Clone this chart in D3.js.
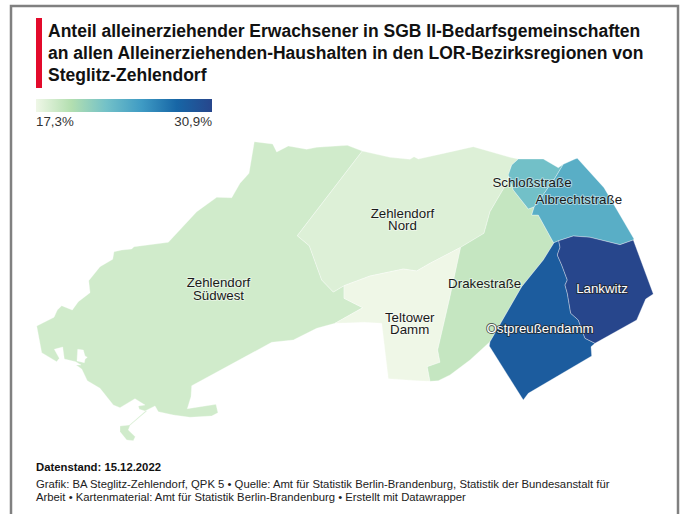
<!DOCTYPE html>
<html lang="de">
<head>
<meta charset="utf-8">
<script src="https://cdn.jsdelivr.net/npm/d3@7"></script>
<style>
  html, body { margin: 0; padding: 0; background: #fff; overflow: hidden; }
  svg { display: block; font-family: "Liberation Sans", Arial, sans-serif; }
</style>
</head>
<body>
<svg></svg>
<script>
const titleLines = [
    "Anteil alleinerziehender Erwachsener in SGB II-Bedarfsgemeinschaften",
    "an allen Alleinerziehenden-Haushalten in den LOR-Bezirksregionen von",
    "Steglitz-Zehlendorf"
];
const footerLines = [
    "Grafik: BA Steglitz-Zehlendorf, QPK 5 • Quelle: Amt für Statistik Berlin-Brandenburg, Statistik der Bundesanstalt für",
    "Arbeit • Kartenmaterial: Amt für Statistik Berlin-Brandenburg  • Erstellt mit Datawrapper"
];
const dataDate = "Datenstand: 15.12.2022";

// Bezirksregionen and their values (%)
const regions = ["Zehlendorf Südwest", "Zehlendorf Nord", "Teltower Damm", "Drakestraße", "Schloßstraße", "Albrechtstraße", "Ostpreußendamm", "Lankwitz"];
const values = [18.7, 18.1, 17.3, 19.2, 22.8, 24.1, 29.0, 30.9];
const rampColors = ["#eff7e7", "#b3dfb0", "#73c1c8", "#3f9bc4", "#1766a6", "#27468c"];
const legendLabels = ["17,3%", "30,9%"];

// Label lines per region, with the anchor point in map units
const labelLines = [["Zehlendorf", "Südwest"], ["Zehlendorf", "Nord"], ["Teltower", "Damm"], ["Drakestraße"], ["Schloßstraße"], ["Albrechtstraße"], ["Ostpreußendamm"], ["Lankwitz"]];
const labelAnchors = [[218.5, 287.3], [402.5, 217.7], [409.7, 321.7], [484.7, 287.7], [532, 186.7], [578.8, 204.3], [540, 333.3], [602, 292.7]];

const outlines = [
    [
        [[254.3,141.7],[272.7,144],[276.7,152],[288.3,146],[306.7,149.3],[316.7,147.3],[347.3,145.3],[362.3,151],[297.3,235.7],[309.3,245.7],[321.7,280],[333.3,292],[344,285.7],[344,298.3],[362.7,307.7],[335,323.3],[316.7,328.3],[293.3,340],[271.7,342.3],[191.7,385.7],[191,396.7],[187.3,408.7],[216,404.3],[218,412.7],[211.7,416],[190,417.3],[173.3,415],[158.3,411.7],[155,406],[145,411],[139.3,409.3],[138.3,406],[145,405],[135,398.7],[120,407.7],[113.3,405],[100,388.3],[87.3,380.7],[81.7,369],[76,365],[81,365],[75.7,361.7],[64.3,359],[62.7,347],[54.3,349.3],[59.3,358.3],[56.7,361.7],[41.7,352.7],[36.7,326],[54,317.3],[57.3,310],[61.7,305.7],[72.3,310],[78.3,301.7],[90,292.7],[88.7,280.7],[100,266.7],[112.7,259.3],[114,251.7],[121.7,250],[131.7,249],[134,246.7],[168.3,242.3],[196.7,211.7],[216.7,197.3],[231.7,197.7],[240,183.3],[249,173.3],[254.3,141.7]],
        [[77.7,349.3],[83.3,350],[85,356],[87.3,357.3],[85,359.3],[84.3,362.7],[77,361],[77.7,349.3]],
        [[120,426],[129.3,425],[146,410.5],[147,411],[130,425.5],[128.3,430],[135.3,436.7],[133.3,440.7],[126.7,440],[120,431.7],[120,426]]
    ],
    [
        [[362.3,151],[390,157.3],[410,159.3],[414,156.7],[418.3,159],[446.7,152.7],[473.3,146.7],[510,157.3],[518.3,159],[511.7,165],[506.7,183.3],[490,211.7],[484,233.3],[460.7,247.3],[430,263.3],[416.7,271],[403.3,269],[370,276],[344,285.7],[333.3,292],[321.7,280],[309.3,245.7],[297.3,235.7],[362.3,151]]
    ],
    [
        [[344,285.7],[370,276],[403.3,269],[416.7,271],[430,263.3],[460.7,247.3],[450,296.7],[437.7,350],[440,362.3],[427.3,366.7],[430,381.3],[416.7,380.7],[388.3,378.7],[381.7,323.3],[363.3,322.3],[353.3,322.7],[335,323.3],[362.7,307.7],[344,298.3],[344,285.7]]
    ],
    [
        [[460.7,247.3],[484,233.3],[490,211.7],[506.7,183.3],[511.7,165],[508.3,175],[513.3,190],[528.3,209],[534.3,206.7],[531.7,215],[538.3,215],[553.3,242.3],[554,242.7],[543.3,260],[521.7,286.7],[508.3,310],[490,341.7],[470,360],[450,375],[438.3,380.7],[430,381.3],[427.3,366.7],[440,362.3],[437.7,350],[450,296.7],[460.7,247.3]]
    ],
    [
        [[518.3,159],[543.3,159],[558.3,167.7],[563.3,164.3],[555,178],[543,195],[534.3,206.7],[528.3,209],[513.3,190],[508.3,175],[511.7,165],[518.3,159]]
    ],
    [
        [[563.3,164.3],[575,159],[577.3,158.3],[604,187.7],[634,239],[633.3,240],[620,244.7],[590,237.3],[573.3,236],[558.7,240.7],[554,242.7],[553.3,242.3],[538.3,215],[531.7,215],[534.3,206.7],[543,195],[555,178],[563.3,164.3]]
    ],
    [
        [[558.7,240.7],[560,247.3],[557.3,255],[561.7,265],[567.3,280],[565,285],[567.3,293.3],[570.7,313.3],[578.3,320],[585,338.3],[595,343.3],[591,346.7],[591.7,356],[528.3,393.3],[523.3,400],[489.3,346],[490,341.7],[508.3,310],[521.7,286.7],[543.3,260],[554,242.7],[558.7,240.7]]
    ],
    [
        [[558.7,240.7],[573.3,236],[590,237.3],[620,244.7],[633.3,240],[653.3,294],[645.7,299],[636.7,320],[595,343.3],[585,338.3],[578.3,320],[570.7,313.3],[567.3,293.3],[565,285],[567.3,280],[561.7,265],[557.3,255],[560,247.3],[558.7,240.7]]
    ]
];

const width = 683;
const height = 514;

const svg = d3.select("svg")
    .attr("width", width)
    .attr("height", height)
    .attr("viewBox", [0, 0, width, height]);

// Grey frame, runs off the bottom of the page
svg.append("rect")
    .attr("x", 11)
    .attr("y", 6)
    .attr("width", 667)
    .attr("height", 600)
    .attr("fill", "none")
    .attr("stroke", "#808080")
    .attr("stroke-width", 2.5);

// Red bar next to the title
svg.append("rect")
    .attr("x", 36)
    .attr("y", 18)
    .attr("width", 6)
    .attr("height", 70)
    .attr("fill", "#e30a2b");

svg.append("g")
    .selectAll("text")
    .data(titleLines)
    .join("text")
    .attr("x", 48)
    .attr("y", (d, i) => 37 + i * 22)
    .attr("font-size", 17.5)
    .attr("font-weight", 700)
    .attr("fill", "#111")
    .text(d => d);

// Colour scale, same stops for the legend and the map
const domainExtent = d3.extent(values);
const colorDomain = rampColors.map((d, i) => domainExtent[0] + i * (domainExtent[1] - domainExtent[0]) / (rampColors.length - 1));
const color = d3.scaleLinear(colorDomain, rampColors);

const gradient = svg.append("defs").append("linearGradient").attr("id", "legend-ramp");
gradient.selectAll("stop")
    .data(colorDomain)
    .join("stop")
    .attr("offset", (d, i) => i / (colorDomain.length - 1))
    .attr("stop-color", d => color(d));

const legendX = d3.scaleLinear(domainExtent, [36, 212]);

svg.append("rect")
    .attr("x", legendX.range()[0])
    .attr("y", 99)
    .attr("width", legendX.range()[1] - legendX.range()[0])
    .attr("height", 13)
    .attr("fill", "url(#legend-ramp)");

svg.append("g")
    .selectAll("text")
    .data(legendLabels)
    .join("text")
    .attr("x", (d, i) => legendX(domainExtent[i]))
    .attr("y", 126)
    .attr("text-anchor", (d, i) => i == 0 ? "start" : "end")
    .attr("font-size", 13.3)
    .attr("fill", "#333")
    .text(d => d);

// Map
const path = d3.geoPath(d3.geoIdentity());

const features = regions.map((name, i) => ({
    type: "Feature",
    properties: { name: name, value: values[i], lines: labelLines[i], anchor: labelAnchors[i] },
    geometry: { type: "Polygon", coordinates: outlines[i] }
}));

svg.append("g")
    .selectAll("path")
    .data(features)
    .join("path")
    .attr("d", path)
    .attr("fill", d => color(d.properties.value))
    .attr("fill-rule", "evenodd")
    .attr("stroke", "#fff")
    .attr("stroke-opacity", 0.55)
    .attr("stroke-width", 0.6)
    .attr("stroke-linejoin", "round");

// Labels: white on the dark regions, dark everywhere else
const labels = svg.append("g")
    .selectAll("text")
    .data(features)
    .join("text")
    .attr("font-size", 13.3)
    .attr("text-anchor", "middle")
    .attr("paint-order", "stroke")
    .attr("stroke-width", 2)
    .attr("stroke-linejoin", "round")
    .attr("stroke-opacity", d => d.properties.value > 28 ? 0.7 : 0.45)
    .attr("stroke", d => d.properties.value > 28 ? "#222" : "#fff")
    .attr("fill", d => d.properties.value > 28 ? "#fff" : "#1a1a1a");

labels.selectAll("tspan")
    .data(d => d.properties.lines.map(line => ({ line: line, anchor: d.properties.anchor })))
    .join("tspan")
    .attr("x", d => d.anchor[0])
    .attr("y", (d, i) => d.anchor[1] + i * 12.7)
    .text(d => d.line);

// Footer
svg.append("text")
    .attr("x", 36)
    .attr("y", 471)
    .attr("font-size", 11.3)
    .attr("font-weight", 700)
    .attr("fill", "#111")
    .text(dataDate);

svg.append("g")
    .selectAll("text")
    .data(footerLines)
    .join("text")
    .attr("x", 36)
    .attr("y", (d, i) => 488 + i * 13)
    .attr("font-size", 11.3)
    .attr("fill", "#222")
    .text(d => d);
</script>
</body>
</html>
